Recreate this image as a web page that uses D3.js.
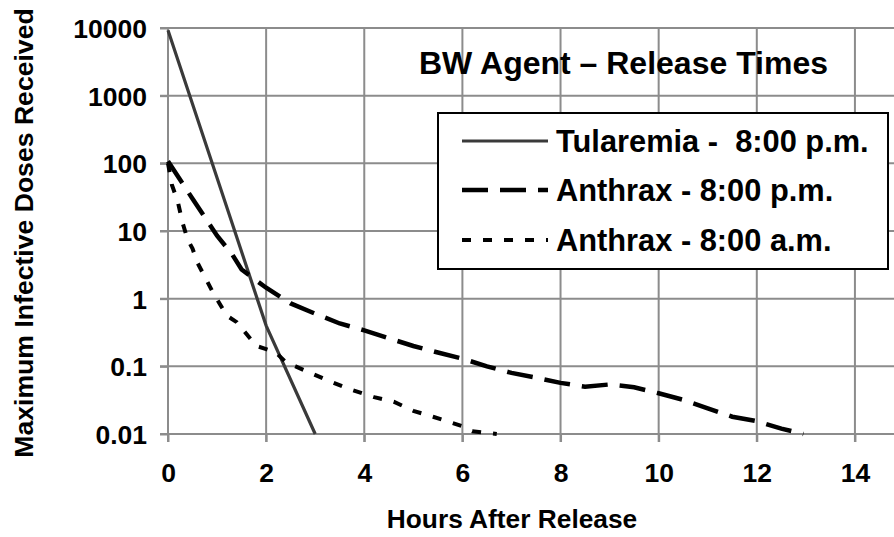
<!DOCTYPE html>
<html><head><meta charset="utf-8">
<script src="https://cdn.jsdelivr.net/npm/d3@7"></script>
<style>
body{margin:0;background:#fff}
text{font-family:"Liberation Sans",Arial,Helvetica,sans-serif;font-weight:bold;fill:#000}
</style>
</head><body>
<svg id="chart" width="894" height="537"></svg>
<script>
// ---- data ----
const xTicks = [0, 2, 4, 6, 8, 10, 12, 14];
const yTicks = [0.01, 0.1, 1, 10, 100, 1000, 10000];
const yTickLabels = ["0.01", "0.1", "1", "10", "100", "1000", "10000"];
const chartTitle = "BW Agent \u2013 Release Times";
const xTitle = "Hours After Release";
const yTitle = "Maximum Infective Doses Received";
const seriesNames = ["Tularemia -  8:00 p.m.", "Anthrax - 8:00 p.m.", "Anthrax - 8:00 a.m."];

const tularemiaHours = [0, 2, 3.0];
const tularemiaDoses = [9300, 0.4, 0.01];

const anthraxPmHours = [0, 0.5, 1, 1.3, 1.5, 2, 2.5, 3, 3.5, 4, 4.5, 5, 5.5, 6, 6.5, 7, 7.5, 8, 8.5, 9, 9.5, 10, 10.5, 11, 11.5, 12, 12.5, 12.95];
const anthraxPmDoses = [107, 30, 8.5, 4.6, 2.7, 1.45, 0.85, 0.6, 0.43, 0.34, 0.26, 0.2, 0.16, 0.13, 0.1, 0.08, 0.068, 0.057, 0.05, 0.054, 0.049, 0.04, 0.032, 0.024, 0.018, 0.0155, 0.012, 0.01];

const anthraxAmHours = [0, 0.08, 0.2, 0.3, 0.4, 0.5, 0.6, 0.75, 0.9, 1.05, 1.2, 1.4, 1.6, 1.8, 2.0, 2.2, 2.4, 2.6, 2.9, 3.3, 3.7, 4.2, 4.6, 5.0, 5.4, 5.8, 6.0, 6.2, 6.7];
const anthraxAmDoses = [100, 48, 27, 13, 7.5, 5.5, 3.4, 2.1, 1.3, 0.85, 0.56, 0.45, 0.3, 0.2, 0.18, 0.16, 0.115, 0.1, 0.08, 0.06, 0.046, 0.035, 0.03, 0.022, 0.018, 0.0145, 0.013, 0.011, 0.01];

// ---- layout ----
const svg = d3.select("#chart");
const pLeft = 168, pRight = 904, pTop = 28, pBottom = 434;
const x = d3.scaleLinear().domain([0, 15]).range([pLeft, pRight]);
const y = d3.scaleLog().domain([0.01, 10000]).range([pBottom, pTop]);
const gridColor = "#8c8c8c";

// grid
const grid = svg.append("g");
grid.selectAll("line.h").data(yTicks).join("line").attr("class", "h")
  .attr("x1", pLeft - 8).attr("x2", pRight)
  .attr("y1", d => y(d)).attr("y2", d => y(d))
  .attr("stroke", gridColor).attr("stroke-width", 2);
grid.selectAll("line.v").data(xTicks).join("line").attr("class", "v")
  .attr("x1", d => x(d)).attr("x2", d => x(d))
  .attr("y1", pTop).attr("y2", pBottom + 8)
  .attr("stroke", gridColor).attr("stroke-width", 2);

// axes (labels)
const yAxis = d3.axisLeft(y).tickValues(yTicks).tickFormat((d, i) => yTickLabels[i]).tickSize(8).tickPadding(13);
const gy = svg.append("g").attr("transform", `translate(${pLeft},0)`).call(yAxis);
gy.select(".domain").remove();
gy.selectAll(".tick line").attr("stroke", gridColor).attr("stroke-width", 2);
gy.selectAll(".tick text").attr("font-size", 26.5).attr("dy", "0.36em");

const xAxis = d3.axisBottom(x).tickValues(xTicks).tickFormat(d3.format("d")).tickSize(8).tickPadding(21);
const gx = svg.append("g").attr("transform", `translate(0,${pBottom})`).call(xAxis);
gx.select(".domain").remove();
gx.selectAll(".tick line").attr("stroke", gridColor).attr("stroke-width", 2);
gx.selectAll(".tick text").attr("font-size", 26.5);
svg.selectAll(".tick text").style("font-family", '"Liberation Sans",Arial,sans-serif').style("font-weight", "bold");
gy.attr("font-family", null); gx.attr("font-family", null);

// series
const line = d3.line().x(d => x(d[0])).y(d => y(d[1]));
const styles = [
  {stroke: "#3a3a3a", width: 3.2, dash: null},
  {stroke: "#000", width: 4.5, dash: "26,12"},
  {stroke: "#000", width: 4, dash: "9,12"}
];
const series = [
  d3.zip(tularemiaHours, tularemiaDoses),
  d3.zip(anthraxPmHours, anthraxPmDoses),
  d3.zip(anthraxAmHours, anthraxAmDoses)
];
series.forEach((s, i) => {
  svg.append("path").datum(s).attr("d", line)
    .attr("fill", "none").attr("stroke", styles[i].stroke)
    .attr("stroke-width", styles[i].width)
    .attr("stroke-dasharray", styles[i].dash);
});

// title
svg.append("text").attr("x", 419).attr("y", 74).attr("font-size", 32).text(chartTitle);

// legend
const lg = svg.append("g");
lg.append("rect").attr("x", 438).attr("y", 113).attr("width", 450).attr("height", 156)
  .attr("fill", "#fff").attr("stroke", "#000").attr("stroke-width", 2);
const rowY = [141, 190, 240];
seriesNames.forEach((n, i) => {
  lg.append("line").attr("x1", 462).attr("x2", 548).attr("y1", rowY[i]).attr("y2", rowY[i])
    .attr("stroke", styles[i].stroke).attr("stroke-width", styles[i].width)
    .attr("stroke-dasharray", styles[i].dash);
  lg.append("text").attr("x", 556).attr("y", rowY[i] + 10.5).attr("font-size", 30.8)
    .style("white-space", "pre").text(n);
});

// axis titles
svg.append("text").attr("x", 512).attr("y", 528).attr("text-anchor", "middle")
  .attr("font-size", 26.3).text(xTitle);
svg.append("text").attr("transform", "translate(33,233) rotate(-90)").attr("text-anchor", "middle")
  .attr("font-size", 26.6).text(yTitle);
</script>
</body></html>
